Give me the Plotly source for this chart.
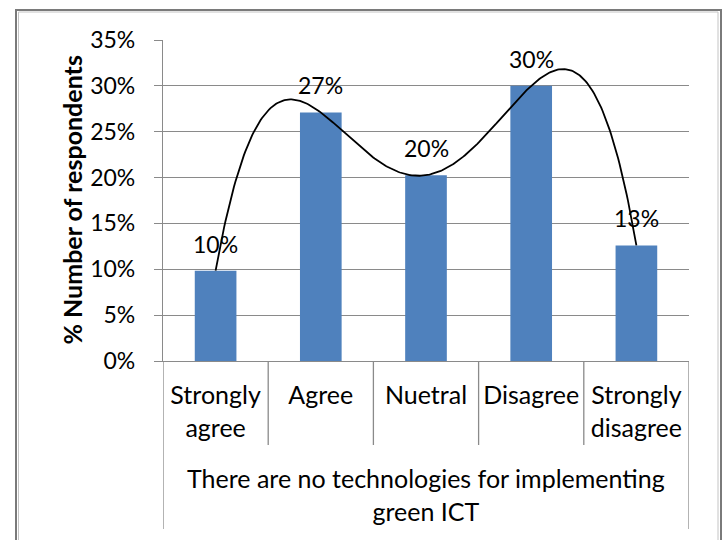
import numpy as np
import plotly.graph_objects as go

# Survey responses
categories = ["Strongly<br>agree", "Agree", "Nuetral", "Disagree", "Strongly<br>disagree"]
shares = [0.0985, 0.271, 0.2026, 0.300, 0.126]
y_ticks = [0.0, 0.05, 0.10, 0.15, 0.20, 0.25, 0.30, 0.35]
y_title = "% Number of respondents"
group_label = "There are no technologies for implementing<br>green ICT"

W, H = 728, 540
L, R, T, B = 163, 39, 40, 179
PW, PH = W - L - R, H - T - B

def px_x(px):
    return (px - L) / PW

def px_y(py):
    return (H - B - py) / PH

FONT = "Lato"
GRID = "#8a8a8a"
idx = np.arange(len(categories))

# 4th-order polynomial trendline through the bar values
coef = np.polyfit(idx, shares, 4)
xs = np.linspace(idx[0], idx[-1], 300)
ys = np.polyval(coef, xs)

fig = go.Figure()
fig.add_trace(go.Bar(x=idx, y=shares, width=0.396, marker=dict(color="#4f81bd", line=dict(width=0)),
                     hoverinfo="skip"))
fig.add_trace(go.Scatter(x=xs, y=ys, mode="lines", line=dict(color="black", width=1.8),
                         hoverinfo="skip"))

# value labels above the bars
for i, v in zip(idx, shares):
    fig.add_annotation(x=i, y=v, text=f"{v:.0%}", showarrow=False, yanchor="middle",
                       yshift=27, font=dict(family=FONT, size=23, color="black"))

shapes = []
# category dividers below the axis
for b in np.arange(-0.5, len(categories), 1.0):
    edge = b in (-0.5, len(categories) - 0.5)
    shapes.append(dict(type="line", xref="x", yref="paper", x0=b, x1=b, y0=0,
                       y1=px_y(529) if edge else px_y(445),
                       line=dict(color=GRID, width=1.3)))
# chart frame
shapes.append(dict(type="rect", xref="paper", yref="paper", x0=px_x(16), x1=px_x(721),
                   y0=px_y(10), y1=px_y(570), line=dict(color="#7a7a7a", width=2)))
shapes.append(dict(type="rect", xref="paper", yref="paper", x0=px_x(18.5), x1=px_x(718),
                   y0=px_y(12), y1=px_y(570), line=dict(color="#c4c4c4", width=1)))

fig.add_annotation(xref="paper", yref="paper", x=px_x(71), y=0.5, xanchor="center",
                   yanchor="middle", text=f"<b>{y_title}</b>",
                   textangle=-90, showarrow=False,
                   font=dict(family=FONT, size=25, color="black"))
fig.add_annotation(xref="paper", yref="paper", x=0.5, y=px_y(461), yanchor="top",
                   text=group_label, showarrow=False,
                   font=dict(family=FONT, size=25, color="black"))

fig.update_layout(
    width=W, height=H, margin=dict(l=L, r=R, t=T, b=B),
    paper_bgcolor="white", plot_bgcolor="white", showlegend=False,
    shapes=shapes,
    xaxis=dict(range=[-0.5, len(categories) - 0.5], tickvals=idx, ticktext=categories,
               showgrid=False, zeroline=False, showline=True, linecolor=GRID, linewidth=1.3,
               ticks="", ticklabelstandoff=12,
               tickfont=dict(family=FONT, size=25, color="black"), fixedrange=True),
    yaxis=dict(range=[0, 0.35], tickvals=y_ticks, tickformat=".0%", showgrid=True,
               gridcolor=GRID, gridwidth=1.3, zeroline=False, showline=True, linecolor=GRID,
               linewidth=1.3, ticks="outside", ticklen=8, tickcolor=GRID, tickwidth=1.3,
               ticklabelstandoff=14,
               tickfont=dict(family=FONT, size=23, color="black"), fixedrange=True),
)

fig.write_html("out.html")
